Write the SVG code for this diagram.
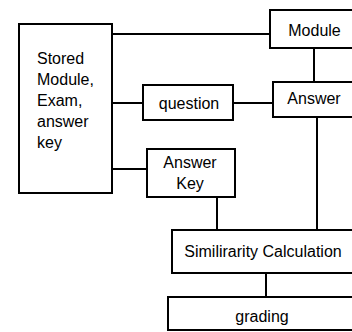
<svg xmlns="http://www.w3.org/2000/svg" width="352" height="332" viewBox="0 0 352 332">
<style>
.box{fill:#fff;stroke:#000;stroke-width:2}
.ln{fill:none;stroke:#000;stroke-width:2}
text{font-family:"Liberation Sans",Arial,sans-serif;font-size:16px;fill:#000}
.c{text-anchor:middle}
</style>
<rect width="352" height="332" fill="#fff"/>
<g id="connectors">
<line class="ln" x1="112" y1="34" x2="270" y2="34"/>
<line class="ln" x1="112" y1="103" x2="143" y2="103"/>
<line class="ln" x1="233" y1="103" x2="273" y2="103"/>
<line class="ln" x1="112" y1="169" x2="147" y2="169"/>
<line class="ln" x1="314" y1="48" x2="314" y2="82"/>
<line class="ln" x1="317" y1="117" x2="317" y2="230"/>
<line class="ln" x1="217" y1="197" x2="217" y2="230"/>
<line class="ln" x1="266" y1="273" x2="266" y2="297"/>
</g>
<g id="stored">
<rect class="box" x="19" y="24" width="93" height="169"/>
<text x="37" y="64">Stored</text>
<text x="37" y="85">Module,</text>
<text x="37" y="106">Exam,</text>
<text x="37" y="127">answer</text>
<text x="37" y="148">key</text>
</g>
<g id="module">
<rect class="box" x="270" y="10" width="90" height="38"/>
<text class="c" x="314.5" y="36">Module</text>
</g>
<g id="question">
<rect class="box" x="143" y="85" width="90" height="35"/>
<text class="c" x="189" y="109">question</text>
</g>
<g id="answer">
<rect class="box" x="273" y="82" width="90" height="35"/>
<text class="c" x="314" y="104">Answer</text>
</g>
<g id="answerkey">
<rect class="box" x="147" y="149" width="88" height="48"/>
<text class="c" x="190" y="168">Answer</text>
<text class="c" x="190" y="189">Key</text>
</g>
<g id="similarity">
<rect class="box" x="172" y="230" width="190" height="43"/>
<text class="c" x="263" y="257">Similirarity Calculation</text>
</g>
<g id="grading">
<rect class="box" x="168" y="297" width="194" height="33"/>
<text class="c" x="262" y="322">grading</text>
</g>
</svg>
